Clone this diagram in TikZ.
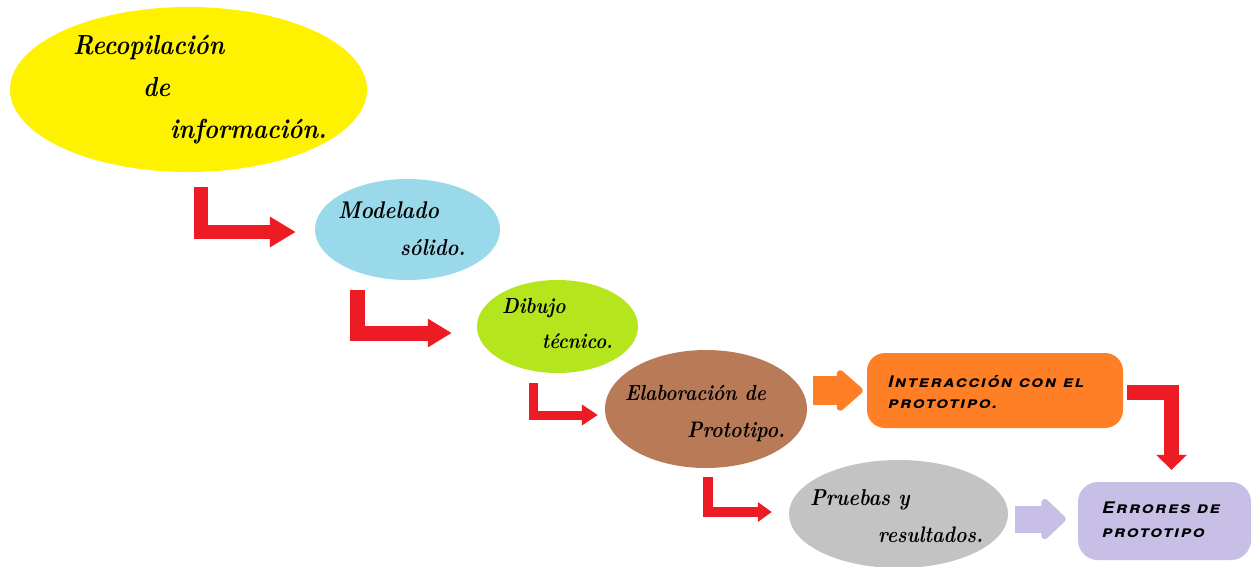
\documentclass[tikz,border=0pt]{standalone}
\usepackage{fontspec}
\usetikzlibrary{shapes.geometric,arrows.meta}
\newfontfamily\boxfont[Letters=SmallCaps,LetterSpace=10,FakeStretch=1.15]{TeX Gyre Heros}
\definecolor{yellowc}{RGB}{255,242,0}
\definecolor{bluec}{RGB}{153,217,234}
\definecolor{greenc}{RGB}{181,230,29}
\definecolor{brownc}{RGB}{185,122,87}
\definecolor{orangec}{RGB}{255,127,39}
\definecolor{greyc}{RGB}{195,195,195}
\definecolor{lavc}{RGB}{200,191,231}
\definecolor{redc}{RGB}{237,28,36}
\tikzset{
  blob/.style={ellipse, inner sep=0pt, draw=none},
  roundbox/.style={rectangle, rounded corners=18pt, inner sep=0pt, draw=none},
  lbl/.style={inner sep=0pt, anchor=base west, yscale=1.15, transform shape},
  boxlbl/.style={inner sep=0pt, anchor=base west, font=\boxfont\bfseries\itshape\fontsize{16}{18}\selectfont},
  redL/.style={draw=redc, line width=#1, line join=miter, line cap=butt},
  blockarrow/.style={line width=#1, line join=round, line cap=butt}
}
\begin{document}
\begin{tikzpicture}[x=1pt,y=-1pt]
\useasboundingbox (0,0) rectangle (1251,566);
\fill[white] (0,0) rectangle (1251,566);
% shapes
\node[blob, fill=yellowc, minimum width=357pt, minimum height=165pt] (yel) at (188.5,89.5) {};
\node[blob, fill=bluec, minimum width=185pt, minimum height=101pt] (blue) at (407.5,229.5) {};
\node[blob, fill=greenc, minimum width=161pt, minimum height=93pt] (green) at (557.5,326.5) {};
\node[blob, fill=brownc, minimum width=202pt, minimum height=118pt] (brown) at (706,409) {};
\node[blob, fill=greyc, minimum width=219pt, minimum height=108pt] (grey) at (898.5,514) {};
\node[roundbox, fill=orangec, minimum width=256pt, minimum height=75pt] (orange) at (995,390.5) {};
\node[roundbox, fill=lavc, minimum width=173pt, minimum height=78pt, rounded corners=20pt] (err) at (1164.5,521) {};
% texts
\node[lbl, font=\bfseries\itshape\fontsize{24}{28}\selectfont] (t1a) at (73,54) {Recopilación};
\node[lbl, font=\bfseries\itshape\fontsize{24}{28}\selectfont] (t1b) at (143,96) {de};
\node[lbl, font=\bfseries\itshape\fontsize{24}{28}\selectfont] (t1c) at (170,138) {información.};
\node[lbl, font=\bfseries\itshape\fontsize{21}{24}\selectfont] (t2a) at (338,218) {Modelado};
\node[lbl, font=\bfseries\itshape\fontsize{20}{24}\selectfont] (t2b) at (400,255) {sólido.};
\node[lbl, font=\bfseries\itshape\fontsize{19}{22}\selectfont] (t3a) at (502,313) {Dibujo};
\node[lbl, font=\bfseries\itshape\fontsize{18.5}{22}\selectfont] (t3b) at (542,348) {técnico.};
\node[lbl, font=\bfseries\itshape\fontsize{19}{23}\selectfont] (t4a) at (625,400) {Elaboración de};
\node[lbl, font=\bfseries\itshape\fontsize{19.5}{23}\selectfont] (t4b) at (687,437) {Prototipo.};
\node[lbl, font=\bfseries\itshape\fontsize{20}{24}\selectfont] (t5a) at (810,505) {Pruebas y};
\node[lbl, font=\bfseries\itshape\fontsize{19.5}{24}\selectfont] (t5b) at (878,542) {resultados.};
\node[boxlbl] (t6a) at (888,387) {Interacción con el};
\node[boxlbl] (t6b) at (888,408) {prototipo.};
\node[boxlbl] (t7a) at (1102,513) {Errores de};
\node[boxlbl] (t7b) at (1102,537) {prototipo};
% connectors
\coordinate (s1) at (200.5,187);
\coordinate (s2) at (357.5,290);
\coordinate (s3) at (533,383);
\coordinate (s4) at (707.5,477);
\coordinate (s5) at (1127,392);
\draw[redL=14pt, -{Triangle[width=29pt,length=26pt]}, shorten >=19pt] (s1) |- ([yshift=-2.5pt]blue.west);
\draw[redL=15pt, -{Triangle[width=27pt,length=24pt]}, shorten >=25pt] (s2) |- ([yshift=-6.5pt]green.west);
\draw[redL=9pt, -{Triangle[width=20pt,length=16pt]}, shorten >=7pt] (s3) |- ([yshift=-6pt]brown.west);
\draw[redL=10pt, -{Triangle[width=19pt,length=14pt]}, shorten >=17pt] (s4) |- ([yshift=2pt]grey.west);
\draw[redL=15pt, -{Triangle[width=30pt,length=15pt]}, shorten >=12pt] (s5) -| ([xshift=7pt]err.north);
\draw[blockarrow=29pt, draw=orangec, -{Triangle[width=47pt,length=28pt,round]}, shorten <=6pt, shorten >=4pt] (brown.east |- orange.west) -- (orange.west);
\draw[blockarrow=27pt, draw=lavc, -{Triangle[width=48pt,length=26pt,round]}, shorten <=7pt, shorten >=12pt] ([yshift=2pt]grey.east |- err.west) -- ([yshift=2pt]err.west);
\end{tikzpicture}
\end{document}
